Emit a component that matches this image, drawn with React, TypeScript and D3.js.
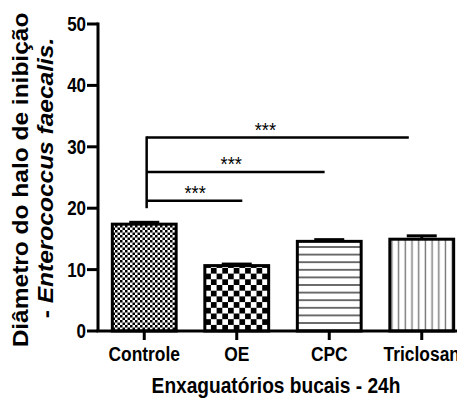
import React from "react";
import * as d3 from "d3";

const categories = ["Controle", "OE", "CPC", "Triclosan"];
const means = [17.4, 10.65, 14.6, 14.95];
const errors = [0.3, 0.25, 0.28, 0.55];
const patterns = ["fineCheck", "coarseCheck", "hLines", "vLines"];
const yTicks = [0, 10, 20, 30, 40, 50];
const sigBase = 20;
const sigLevels = [21.2, 25.9, 31.5];
const sigStartPos = 0.026;
const sigEndPos = [1.06, 1.95, 2.86];
const sigStarPos = [0.55, 0.94, 1.31];
const sigLabels = ["***", "***", "***"];
const yTitle1 = "Diâmetro do halo de inibição";
const yTitle2a = "- ";
const yTitle2b = "Enterococcus faecalis.";
const xTitle = "Enxaguatórios bucais - 24h";

const W = 457;
const H = 402;
const FONT = "'Liberation Sans', Arial, sans-serif";
const SX = 0.87;

export default function App() {
  const y = d3.scaleLinear().domain([0, 50]).range([331, 24]);
  const x = d3
    .scaleBand<string>()
    .domain(categories)
    .range([98, 468])
    .paddingInner(0.31)
    .paddingOuter(0.155);
  const bw = x.bandwidth();
  const cx = (c: string) => (x(c) as number) + bw / 2;
  const pos = d3
    .scaleLinear()
    .domain([0, categories.length - 1])
    .range([cx(categories[0]), cx(categories[categories.length - 1])]);
  const axisX = 98;
  const y0 = y(0);

  return (
    <svg
      width={W}
      height={H}
      style={{ position: "absolute", left: 0, top: 0, background: "#fff" }}
    >
      <defs>
        <pattern id="fineCheck" width={5} height={5} patternUnits="userSpaceOnUse">
          <rect width={5} height={5} fill="#fff" />
          <rect x={0} y={0} width={2.5} height={2.5} fill="#000" />
          <rect x={2.5} y={2.5} width={2.5} height={2.5} fill="#000" />
        </pattern>
        <pattern id="coarseCheck" width={11.4} height={11.4} patternUnits="userSpaceOnUse">
          <rect width={11.4} height={11.4} fill="#fff" />
          <rect x={0} y={0} width={5.7} height={5.7} fill="#000" />
          <rect x={5.7} y={5.7} width={5.7} height={5.7} fill="#000" />
        </pattern>
        <pattern id="hLines" width={10} height={7.6} patternUnits="userSpaceOnUse">
          <rect width={10} height={7.6} fill="#fff" />
          <line x1={0} x2={10} y1={3.8} y2={3.8} stroke="#222" strokeWidth={1.3} />
        </pattern>
        <pattern id="vLines" width={6.7} height={10} patternUnits="userSpaceOnUse">
          <rect width={6.7} height={10} fill="#fff" />
          <line x1={3.3} x2={3.3} y1={0} y2={10} stroke="#777" strokeWidth={1.4} />
        </pattern>
      </defs>

      {/* bars */}
      {categories.map((c, i) => (
        <g key={c}>
          <rect
            x={x(c)}
            y={y(means[i])}
            width={bw}
            height={y0 - y(means[i])}
            fill={`url(#${patterns[i]})`}
            stroke="#000"
            strokeWidth={3}
          />
          <line
            x1={cx(c)}
            x2={cx(c)}
            y1={y(means[i])}
            y2={y(means[i] + errors[i])}
            stroke="#000"
            strokeWidth={3}
          />
          <line
            x1={cx(c) - 15}
            x2={cx(c) + 15}
            y1={y(means[i] + errors[i])}
            y2={y(means[i] + errors[i])}
            stroke="#000"
            strokeWidth={3}
          />
        </g>
      ))}

      {/* y axis */}
      <line x1={axisX} x2={axisX} y1={y(50) - 1.5} y2={y0} stroke="#000" strokeWidth={3} />
      {yTicks.map((t) => (
        <g key={t}>
          <line x1={axisX - 11} x2={axisX} y1={y(t)} y2={y(t)} stroke="#000" strokeWidth={3} />
          <text
            transform={`translate(${axisX - 12},${y(t) + 7}) scale(${SX},1)`}
            textAnchor="end"
            fontFamily={FONT}
            fontWeight="bold"
            fontSize={19.5}
          >
            {t}
          </text>
        </g>
      ))}

      {/* x axis */}
      <line x1={axisX - 1.5} x2={W} y1={y0} y2={y0} stroke="#000" strokeWidth={3} />
      {categories.map((c) => (
        <g key={c}>
          <line x1={cx(c)} x2={cx(c)} y1={y0} y2={y0 + 9} stroke="#000" strokeWidth={3} />
          <text
            transform={`translate(${cx(c)},361) scale(${SX},1)`}
            textAnchor="middle"
            fontFamily={FONT}
            fontWeight="bold"
            fontSize={20}
          >
            {c}
          </text>
        </g>
      ))}

      {/* significance */}
      <line
        x1={pos(sigStartPos)}
        x2={pos(sigStartPos)}
        y1={y(sigBase)}
        y2={y(sigLevels[sigLevels.length - 1]) - 1.25}
        stroke="#000"
        strokeWidth={2.5}
      />
      {sigLevels.map((lv, i) => (
        <g key={i}>
          <line
            x1={pos(sigStartPos)}
            x2={pos(sigEndPos[i])}
            y1={y(lv)}
            y2={y(lv)}
            stroke="#000"
            strokeWidth={2.5}
          />
          <text
            transform={`translate(${pos(sigStarPos[i])},${y(lv) - 1}) scale(${SX},1)`}
            textAnchor="middle"
            fontFamily={FONT}
            fontSize={21}
          >
            {sigLabels[i]}
          </text>
        </g>
      ))}

      {/* titles */}
      <text
        transform={`translate(276,393) scale(${SX},1)`}
        textAnchor="middle"
        fontFamily={FONT}
        fontWeight="bold"
        fontSize={22}
      >
        {xTitle}
      </text>
      <text
        transform={`translate(28,180) rotate(-90) scale(1,0.9)`}
        textAnchor="middle"
        fontFamily={FONT}
        fontWeight="bold"
        fontSize={24.5}
      >
        {yTitle1}
      </text>
      <text
        transform={`translate(53,178) rotate(-90) scale(1,0.9)`}
        textAnchor="middle"
        fontFamily={FONT}
        fontWeight="bold"
        fontSize={24.5}
      >
        <tspan>{yTitle2a}</tspan>
        <tspan fontStyle="italic">{yTitle2b}</tspan>
      </text>
    </svg>
  );
}
